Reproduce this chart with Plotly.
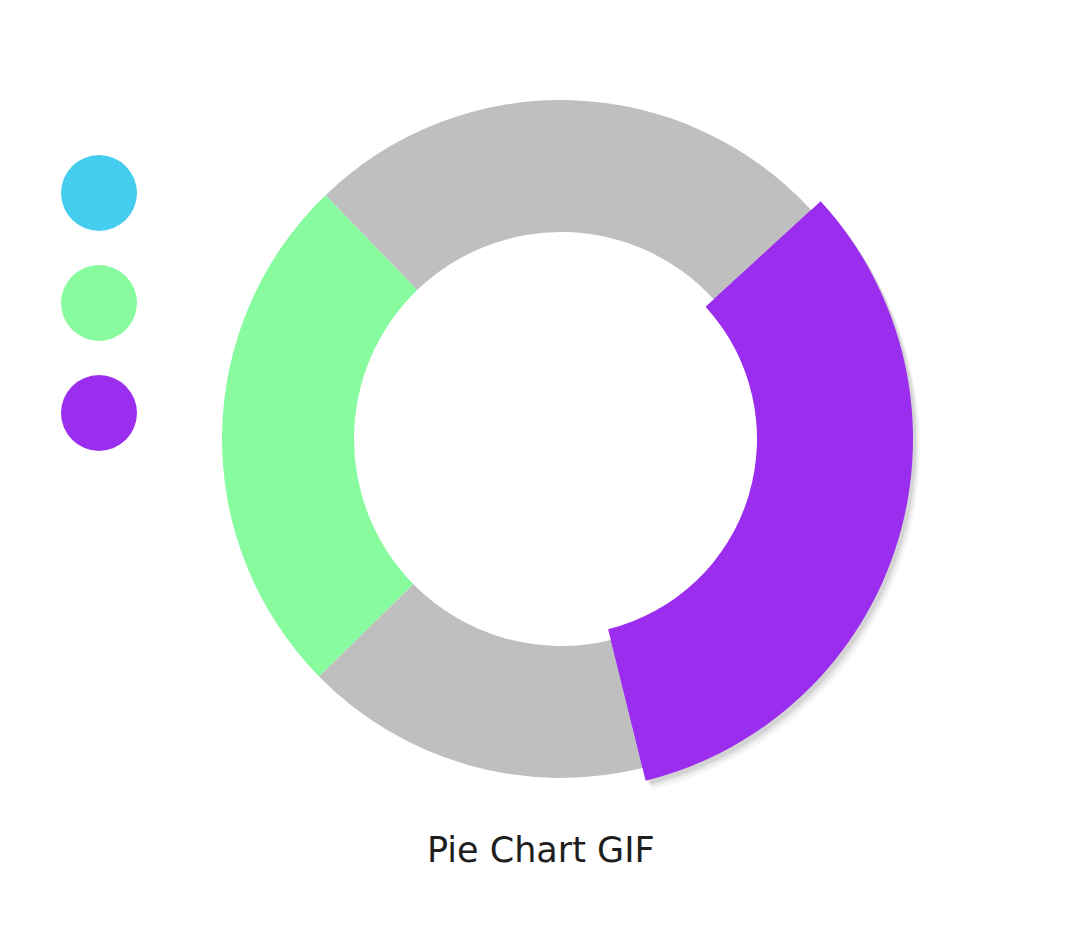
import plotly.graph_objects as go

# ---- data ----
slice_labels = ["Gray (top)", "Purple", "Gray (bottom)", "Green"]
slice_values = [25.4, 32.9, 16.5, 25.1]
slice_colors = ["#BFBFBF", "#9B2DEE", "#BFBFBF", "#88FB9E"]
highlight_index = 1  # enlarged slice

legend_colors = ["#45CDEF", "#88FB9E", "#9B2DEE"]
title_text = "Pie Chart GIF"

W, H = 1084, 946
OFF = 8  # page body margin


def px(x):
    return (x - OFF) / W


def py(y):
    return 1 - (y - OFF) / H


def dom(cx, cy, r, dx=0, dy=0):
    cx += dx
    cy += dy
    return dict(x=[px(cx - r), px(cx + r)], y=[py(cy + r), py(cy - r)])


CX, CY = 561, 439
R_MAIN, HOLE_MAIN = 339, 207 / 339
R_BIG, HOLE_BIG = 352, 196 / 352

common = dict(labels=slice_labels, values=slice_values, sort=False,
              direction="clockwise", rotation=-44, textinfo="none",
              hoverinfo="label+value", showlegend=False)

fig = go.Figure()
fig.add_trace(go.Pie(domain=dom(CX, CY, R_MAIN), hole=HOLE_MAIN,
                     marker=dict(colors=slice_colors, line=dict(width=0)),
                     **common))

# soft shadow for the highlighted slice
for (ox, oy, a) in [(7, 9, 0.04), (5, 6, 0.06), (3, 4, 0.08)]:
    cols = ["rgba(0,0,0,0)"] * len(slice_values)
    cols[highlight_index] = f"rgba(0,0,0,{a})"
    fig.add_trace(go.Pie(domain=dom(CX, CY, R_BIG, ox, oy), hole=HOLE_BIG,
                         marker=dict(colors=cols, line=dict(width=0)),
                         **{**common, "hoverinfo": "skip"}))

big_cols = ["rgba(0,0,0,0)"] * len(slice_values)
big_cols[highlight_index] = slice_colors[highlight_index]
fig.add_trace(go.Pie(domain=dom(CX, CY, R_BIG), hole=HOLE_BIG,
                     marker=dict(colors=big_cols, line=dict(width=0)),
                     **common))

# legend dots (no text)
shapes = []
for i, c in enumerate(legend_colors):
    cy = 193 + i * 110
    shapes.append(dict(type="circle", xref="paper", yref="paper",
                       x0=px(61), x1=px(137),
                       y0=py(cy + 38), y1=py(cy - 38),
                       fillcolor=c, line=dict(width=0)))

fig.update_layout(
    width=W, height=H,
    margin=dict(l=0, r=0, t=0, b=0),
    paper_bgcolor="white", plot_bgcolor="white",
    shapes=shapes,
    annotations=[dict(text=title_text, x=px(541), y=py(850),
                      xref="paper", yref="paper", showarrow=False,
                      xanchor="center", yanchor="middle",
                      font=dict(family="DejaVu Sans", size=35, color="#1e1e1e"))],
)

fig.write_html("out.html")
